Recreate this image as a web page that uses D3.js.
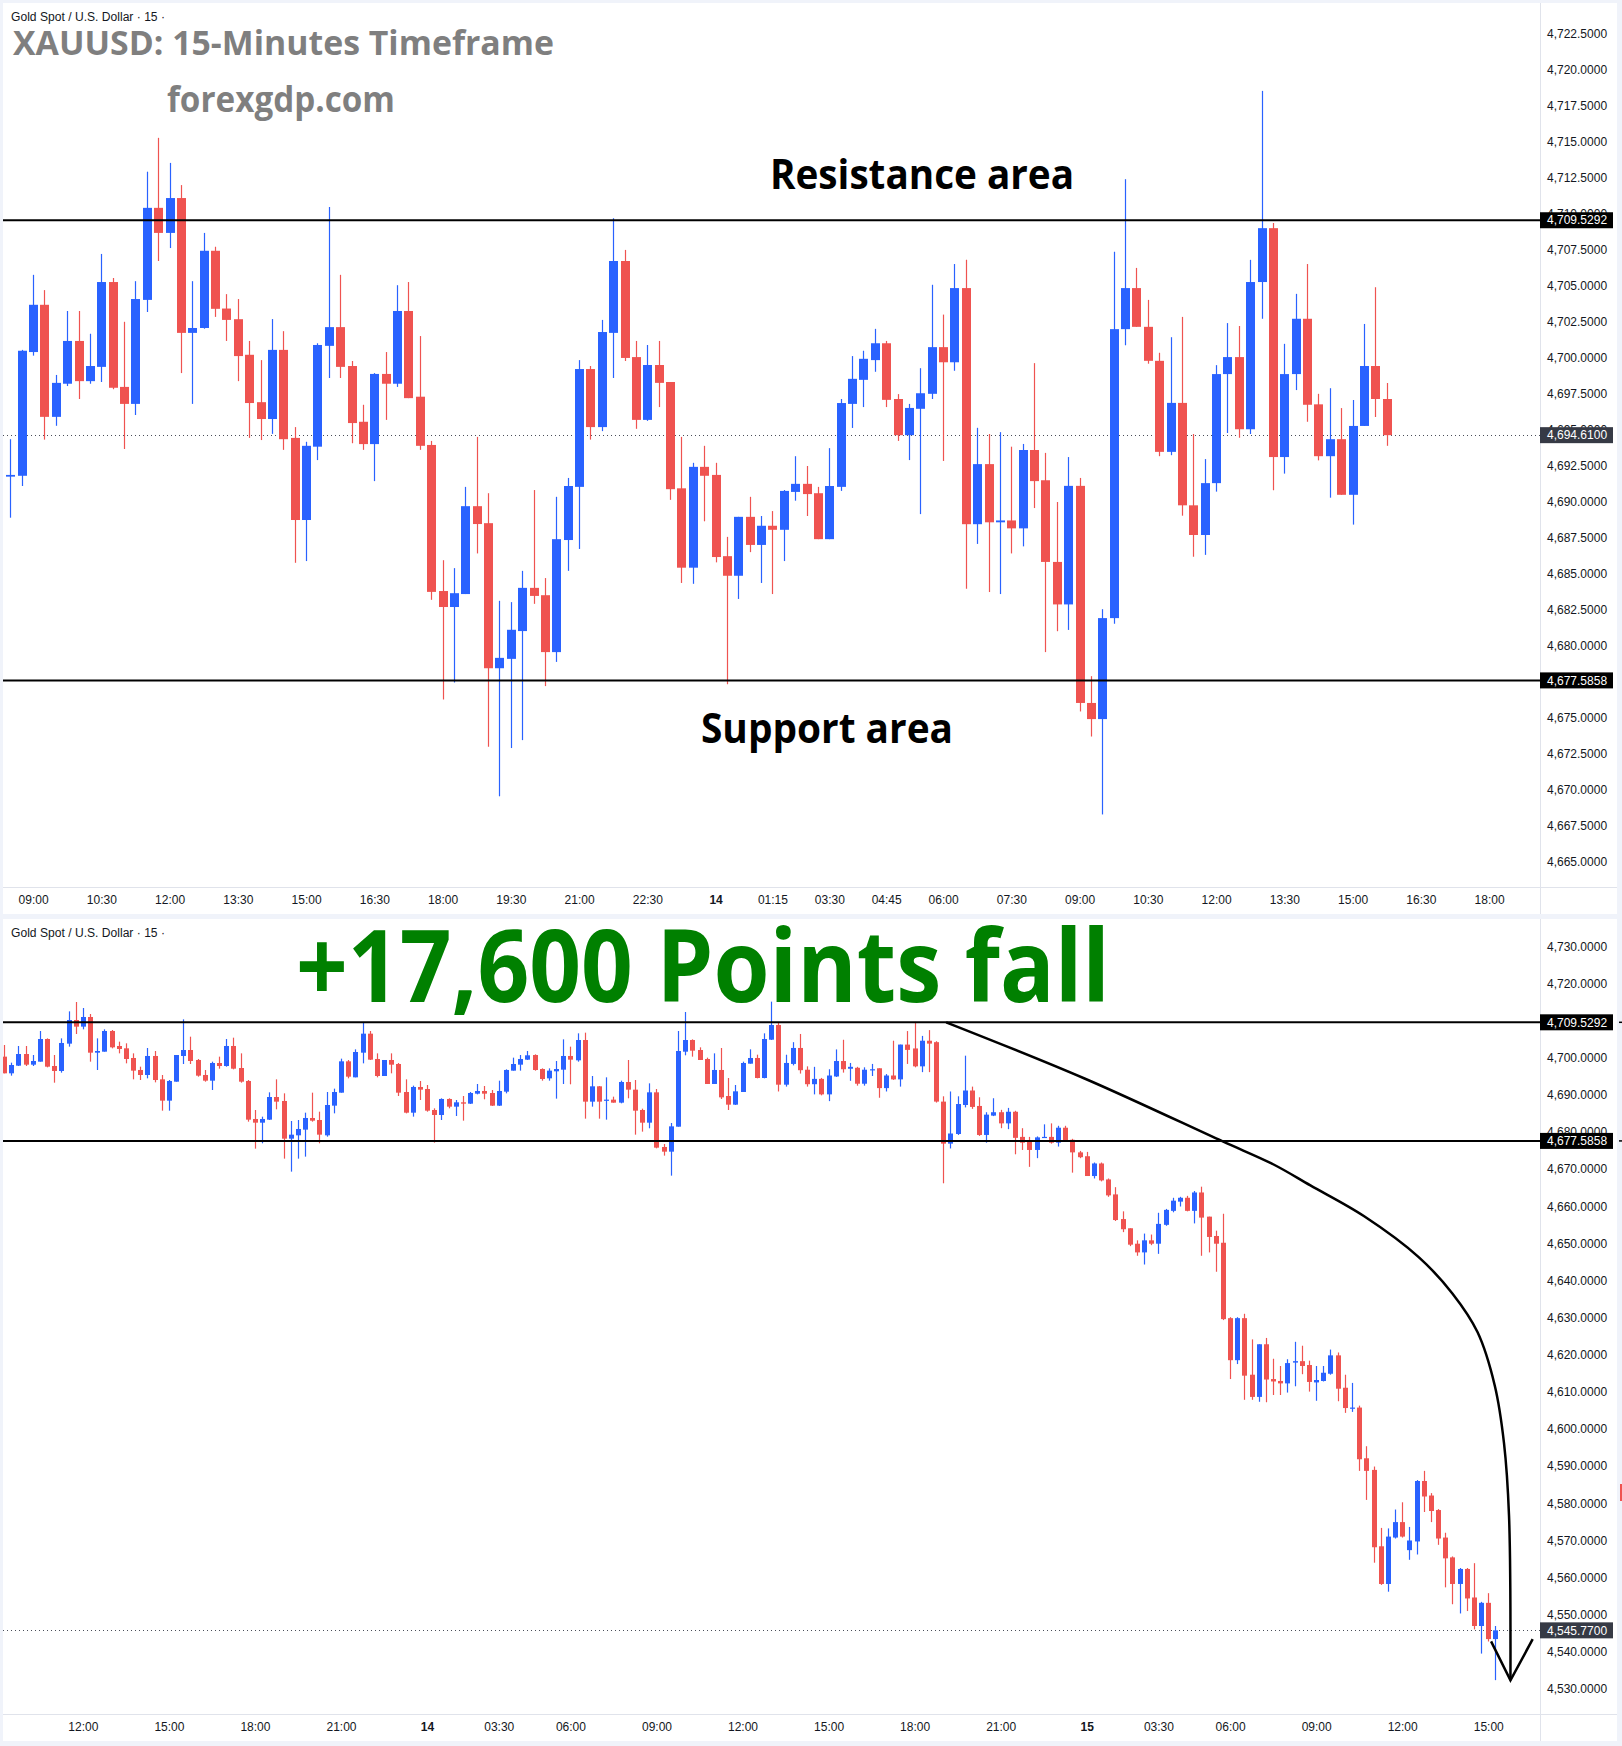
<!DOCTYPE html>
<html>
<head>
<meta charset="utf-8">
<script src="https://cdn.jsdelivr.net/npm/d3@7"></script>
<style>
  html, body { margin: 0; padding: 0; background: #f0f3fa; }
  svg { display: block; }
</style>
</head>
<body>
<div id="chart"></div>
<script>
// ---- top chart (15m, first view) ----
const topOpen = [4691.73,4691.79,4700.38,4703.66,4695.88,4698.18,4701.15,4698.36,4699.35,4705.24,
  4697.96,4696.78,4704.00,4710.39,4708.65,4711.07,4701.71,4702.05,4707.41,4703.40,
  4702.66,4700.19,4696.90,4695.73,4700.53,4694.42,4688.72,4693.81,4700.81,4702.11,
  4699.41,4695.54,4693.99,4698.86,4698.18,4703.23,4697.28,4693.93,4683.79,4682.68,
  4683.58,4689.68,4688.50,4678.43,4679.08,4681.01,4684.01,4683.50,4679.55,4687.33,
  4691.02,4699.20,4695.17,4701.71,4706.70,4700.03,4695.67,4699.48,4698.30,4690.92,
  4685.41,4692.41,4691.85,4686.21,4684.85,4688.94,4686.99,4688.32,4688.04,4690.67,
  4691.23,4690.58,4687.39,4691.02,4696.78,4698.45,4699.82,4700.99,4697.12,4694.61,
  4696.44,4697.48,4700.72,4699.67,4704.82,4688.43,4692.60,4688.56,4688.69,4688.14,
  4693.58,4691.48,4685.81,4682.86,4691.09,4676.02,4674.90,4681.91,4701.97,4704.82,
  4702.13,4699.77,4693.45,4696.85,4689.74,4687.68,4691.28,4698.85,4700.03,4695.02,
  4705.24,4708.98,4693.09,4698.85,4702.69,4696.75,4693.15,4694.33,4690.47,4695.25,
  4699.41,4697.12];
const topHigh = [4694.33,4700.53,4705.74,4704.68,4698.79,4703.23,4703.23,4701.65,4707.19,4705.52,
  4702.48,4705.30,4712.90,4715.25,4713.51,4711.97,4705.30,4708.65,4707.69,4704.40,
  4704.06,4701.15,4699.82,4702.67,4701.83,4695.17,4694.15,4700.99,4710.45,4705.74,
  4699.76,4696.72,4698.92,4700.38,4705.02,4705.24,4701.49,4694.21,4685.93,4685.38,
  4691.02,4694.49,4690.58,4683.11,4683.02,4685.19,4690.80,4684.69,4690.33,4691.64,
  4699.82,4699.41,4702.61,4709.67,4707.47,4701.15,4700.87,4701.15,4698.30,4694.49,
  4692.69,4693.87,4692.69,4687.55,4688.94,4690.33,4689.00,4689.34,4690.80,4693.15,
  4692.47,4691.02,4693.71,4697.12,4700.10,4700.47,4701.99,4701.15,4697.46,4696.78,
  4699.26,4705.05,4702.98,4706.49,4706.78,4695.12,4694.69,4694.82,4693.81,4694.00,
  4699.61,4693.38,4689.97,4693.09,4691.64,4677.88,4682.53,4707.34,4712.38,4706.22,
  4704.00,4700.33,4701.41,4702.82,4694.69,4692.95,4699.47,4702.39,4702.19,4706.78,
  4718.51,4709.34,4700.95,4704.42,4706.49,4697.48,4697.87,4696.49,4697.05,4702.33,
  4704.88,4698.23];
const topLow = [4688.88,4691.08,4700.13,4694.30,4695.26,4698.02,4697.12,4698.18,4698.30,4697.80,
  4693.65,4696.01,4703.16,4706.70,4707.60,4698.92,4696.78,4702.00,4702.82,4701.15,
  4698.36,4694.42,4694.27,4694.70,4693.59,4685.75,4685.87,4692.88,4698.58,4698.58,
  4694.05,4693.59,4691.42,4695.67,4697.96,4697.18,4693.59,4683.18,4676.26,4677.44,
  4683.58,4686.40,4672.98,4669.54,4672.89,4673.44,4682.90,4677.19,4678.87,4685.19,
  4686.71,4694.30,4694.89,4698.58,4699.76,4695.05,4695.60,4696.56,4690.12,4684.35,
  4684.29,4688.63,4685.78,4677.32,4683.24,4686.49,4684.35,4683.58,4685.87,4690.06,
  4689.00,4687.39,4687.39,4690.74,4695.11,4696.56,4699.01,4696.56,4694.21,4692.88,
  4689.13,4697.12,4692.82,4699.08,4683.95,4687.06,4683.72,4683.58,4686.40,4686.89,
  4689.55,4679.55,4681.00,4681.09,4675.43,4673.69,4668.28,4681.52,4700.85,4702.13,
  4699.57,4693.15,4693.22,4689.02,4686.17,4686.30,4690.69,4694.76,4694.43,4694.69,
  4702.69,4690.79,4691.94,4697.74,4695.54,4692.86,4690.27,4690.47,4688.40,4695.25,
  4695.87,4693.87];
const topClose = [4691.85,4700.47,4703.66,4695.88,4698.24,4701.15,4698.36,4699.41,4705.24,4697.90,
  4696.78,4704.06,4710.39,4708.65,4711.07,4701.71,4702.05,4707.41,4703.38,4702.61,
  4700.10,4696.84,4695.73,4700.53,4694.33,4688.72,4693.87,4700.87,4702.11,4699.35,
  4695.45,4693.99,4698.86,4698.18,4703.23,4697.18,4693.87,4683.73,4682.68,4683.64,
  4689.68,4688.44,4678.43,4679.15,4681.10,4684.01,4683.45,4679.55,4687.39,4691.08,
  4699.20,4695.17,4701.77,4706.70,4699.97,4695.67,4699.48,4698.24,4690.86,4685.41,
  4692.41,4691.79,4686.15,4684.85,4688.94,4686.99,4688.32,4688.04,4690.74,4691.23,
  4690.52,4687.39,4691.08,4696.84,4698.52,4699.91,4700.99,4697.06,4694.61,4696.50,
  4697.52,4700.72,4699.67,4704.82,4688.43,4692.60,4688.56,4688.69,4688.14,4693.58,
  4691.42,4685.81,4682.86,4691.09,4676.02,4674.90,4681.91,4701.97,4704.82,4702.13,
  4699.77,4693.45,4696.85,4689.74,4687.68,4691.28,4698.85,4700.03,4695.02,4705.24,
  4708.98,4693.09,4698.85,4702.69,4696.72,4693.15,4694.33,4690.47,4695.25,4699.41,
  4697.12,4694.61];
const topTickIdx = [2,8,14,20,26,32,38,44,50,56,62,67,72,77,82,88,94,100,106,112,118,124,130];
const topTickLbl = ['09:00','10:30','12:00','13:30','15:00','16:30','18:00','19:30','21:00','22:30','14',
  '01:15','03:30','04:45','06:00','07:30','09:00','10:30','12:00','13:30','15:00','16:30','18:00'];
const topPriceTicks = d3.range(4665, 4722.51, 2.5);

// ---- bottom chart (15m, zoomed out) ----
const botOpen = [4700.28,4695.79,4697.85,4700.99,4698.12,4698.93,4705.03,4697.76,4696.42,4703.78,
  4710.15,4708.36,4710.96,4701.35,4701.62,4707.19,4703.15,4702.52,4699.92,4696.69,
  4695.34,4700.46,4694.17,4688.43,4693.54,4700.46,4702.07,4699.38,4695.34,4693.81,
  4698.57,4697.76,4703.15,4697.22,4693.72,4683.49,4682.50,4683.31,4689.41,4688.34,
  4678.19,4679.09,4680.62,4683.76,4683.22,4679.09,4687.08,4690.58,4699.02,4694.71,
  4701.35,4706.47,4699.65,4695.07,4699.38,4698.30,4690.76,4685.19,4692.11,4691.57,
  4685.91,4684.57,4688.88,4686.81,4687.98,4687.62,4690.31,4691.03,4690.49,4687.08,
  4690.85,4696.51,4698.12,4699.47,4700.72,4696.95,4694.44,4696.33,4696.77,4700.46,
  4699.29,4704.76,4688.16,4692.29,4688.52,4688.70,4687.89,4693.45,4691.39,4685.91,
  4682.50,4690.67,4675.95,4674.69,4681.42,4701.62,4704.76,4702.07,4699.65,4692.92,
  4696.69,4689.68,4687.35,4690.76,4698.39,4699.92,4694.53,4704.85,4708.80,4692.73,
  4698.32,4702.62,4696.76,4692.86,4694.29,4690.12,4694.94,4699.10,4697.02,4697.28,
  4692.99,4696.63,4697.15,4691.81,4695.20,4694.16,4703.53,4702.49,4697.67,4704.57,
  4704.18,4688.17,4676.85,4679.45,4687.26,4691.16,4687.00,4679.19,4684.40,4685.31,
  4682.31,4685.44,4678.67,4677.37,4675.15,4678.41,4678.67,4677.11,4681.14,4677.89,
  4674.50,4673.46,4668.13,4671.51,4667.21,4663.18,4656.54,4654.06,4649.90,4647.56,
  4650.81,4649.90,4654.98,4658.75,4661.23,4662.27,4658.75,4663.70,4657.19,4651.98,
  4650.16,4629.85,4618.53,4629.85,4614.62,4608.64,4622.82,4613.45,4612.93,4612.28,
  4617.88,4618.27,4617.23,4612.54,4612.93,4614.88,4619.83,4611.11,4605.51,4605.77,
  4592.11,4588.98,4568.41,4558.26,4570.76,4574.92,4567.37,4569.71,4585.99,4582.08,
  4578.17,4570.76,4565.42,4558.26,4562.30,4554.62,4546.94,4553.18,4543.42];
const botHigh = [4703.42,4698.66,4703.15,4703.15,4700.72,4707.19,4705.21,4700.72,4705.21,4712.48,
  4715.00,4713.38,4711.77,4705.21,4707.64,4707.46,4704.32,4703.87,4701.17,4697.58,
  4702.61,4701.80,4695.34,4693.99,4700.72,4710.33,4705.66,4699.65,4696.69,4698.93,
  4700.28,4705.03,4705.39,4701.17,4693.99,4685.91,4684.12,4690.67,4694.17,4690.40,
  4682.95,4683.22,4685.19,4690.58,4685.46,4690.76,4691.66,4699.74,4699.38,4702.25,
  4709.61,4707.19,4701.17,4699.38,4701.17,4698.57,4694.17,4692.47,4693.72,4692.65,
  4686.36,4689.06,4689.06,4688.61,4689.68,4690.76,4692.92,4692.38,4691.30,4693.81,
  4696.86,4700.01,4700.72,4701.80,4700.90,4697.13,4697.13,4699.11,4704.94,4702.97,
  4706.56,4706.74,4695.07,4692.38,4694.71,4689.50,4693.81,4699.38,4693.99,4686.27,
  4693.09,4691.57,4676.76,4682.41,4707.19,4712.30,4704.94,4702.79,4700.01,4701.17,
  4702.61,4694.53,4692.65,4698.93,4702.25,4700.81,4706.56,4715.09,4709.39,4700.80,
  4704.18,4706.39,4697.67,4697.54,4694.55,4696.89,4702.23,4704.83,4698.58,4697.54,
  4697.41,4698.32,4697.15,4695.59,4704.57,4703.53,4707.17,4709.65,4705.87,4707.43,
  4704.44,4689.60,4690.90,4689.60,4700.54,4692.21,4689.34,4685.31,4689.08,4685.96,
  4686.48,4685.70,4681.01,4678.67,4678.80,4682.05,4682.31,4681.66,4681.66,4678.15,
  4674.89,4674.63,4671.77,4671.77,4667.47,4665.13,4658.62,4654.06,4650.81,4652.63,
  4652.37,4658.23,4659.27,4662.27,4662.53,4662.79,4664.09,4665.26,4657.19,4653.41,
  4657.97,4630.11,4630.11,4631.03,4624.13,4622.82,4624.52,4618.92,4616.97,4618.79,
  4623.48,4622.43,4618.40,4616.97,4616.97,4621.39,4620.61,4614.62,4612.41,4606.29,
  4595.36,4589.89,4573.36,4573.23,4578.31,4580.26,4573.62,4586.25,4588.72,4582.73,
  4578.43,4572.06,4565.68,4562.56,4562.56,4563.86,4553.44,4555.78,4546.94];
const botLow = [4695.79,4695.16,4697.76,4697.76,4697.76,4698.93,4697.40,4693.27,4695.97,4702.97,
  4706.38,4707.64,4698.93,4696.69,4701.62,4702.52,4701.17,4698.48,4694.17,4693.99,
  4694.44,4693.36,4685.73,4685.73,4693.54,4698.30,4698.30,4694.89,4693.54,4691.30,
  4697.04,4697.58,4696.86,4693.27,4682.77,4675.50,4676.94,4683.22,4686.09,4672.81,
  4669.31,4672.81,4673.35,4682.77,4676.94,4678.73,4685.01,4690.58,4694.44,4694.71,
  4698.48,4699.38,4694.71,4695.07,4695.79,4689.68,4685.01,4684.12,4688.61,4685.46,
  4677.12,4683.22,4686.36,4684.30,4683.04,4687.53,4690.13,4688.79,4686.99,4686.99,
  4690.40,4696.51,4696.51,4699.38,4696.51,4693.81,4693.81,4688.97,4692.92,4692.83,
  4698.93,4683.58,4686.81,4683.58,4683.31,4687.89,4687.71,4689.06,4679.27,4680.08,
  4680.98,4675.59,4673.62,4668.23,4681.42,4700.64,4700.28,4699.38,4692.92,4692.92,
  4688.88,4685.91,4687.26,4690.76,4698.39,4694.44,4694.44,4704.76,4690.90,4692.21,
  4697.93,4695.72,4692.21,4690.12,4689.86,4688.30,4694.81,4695.98,4693.77,4692.47,
  4692.47,4695.07,4689.21,4690.90,4694.03,4692.21,4698.32,4697.41,4696.11,4696.11,
  4687.91,4666.17,4675.55,4679.19,4686.61,4686.22,4678.93,4677.11,4684.27,4681.01,
  4680.75,4673.98,4675.15,4670.60,4672.94,4678.41,4676.85,4676.07,4677.37,4669.04,
  4672.94,4668.13,4667.47,4666.69,4662.53,4656.02,4653.02,4649.25,4646.65,4644.30,
  4649.51,4647.17,4654.72,4658.36,4659.92,4658.62,4655.37,4646.65,4647.56,4642.35,
  4629.33,4613.45,4617.49,4607.86,4607.86,4607.33,4607.20,4609.16,4609.16,4609.81,
  4611.50,4614.75,4610.07,4607.60,4612.80,4614.62,4607.47,4604.34,4604.60,4588.72,
  4580.90,4563.99,4558.00,4556.18,4570.50,4570.76,4564.77,4566.20,4577.65,4574.92,
  4568.80,4557.35,4552.80,4550.32,4550.97,4546.03,4539.51,4542.77,4532.36];
const botClose = [4695.79,4698.03,4700.99,4698.12,4699.11,4705.03,4697.58,4696.42,4703.96,4710.15,
  4708.36,4710.96,4701.35,4701.80,4707.19,4702.79,4702.34,4699.65,4696.51,4695.34,
  4700.46,4693.99,4688.43,4693.72,4700.72,4702.07,4699.11,4695.16,4693.81,4698.57,
  4697.76,4703.15,4697.04,4693.54,4683.31,4682.50,4683.49,4689.41,4688.16,4678.19,
  4679.27,4680.80,4683.76,4683.04,4679.27,4687.26,4690.76,4699.02,4694.89,4701.53,
  4706.47,4699.47,4695.07,4699.38,4698.12,4690.58,4685.19,4692.11,4691.39,4685.73,
  4684.57,4688.88,4686.81,4687.98,4687.62,4690.49,4691.03,4690.31,4687.08,4691.03,
  4696.69,4698.30,4699.65,4700.64,4696.69,4694.26,4696.51,4696.95,4700.46,4699.47,
  4704.76,4688.16,4692.29,4688.16,4688.70,4687.89,4693.45,4691.39,4685.73,4682.50,
  4690.67,4675.77,4674.69,4681.51,4701.80,4704.76,4701.89,4699.38,4692.92,4696.69,
  4689.32,4687.35,4690.94,4698.57,4699.92,4694.53,4705.03,4708.80,4692.73,4698.58,
  4702.62,4696.63,4692.86,4694.29,4690.12,4695.20,4699.10,4696.89,4697.54,4692.99,
  4696.76,4696.89,4691.81,4695.20,4694.16,4703.53,4702.10,4697.67,4704.57,4703.79,
  4688.17,4676.85,4679.58,4687.52,4691.16,4686.74,4679.19,4684.66,4685.31,4682.31,
  4685.44,4678.41,4677.11,4675.15,4678.54,4678.67,4677.11,4681.14,4677.63,4674.50,
  4673.20,4668.13,4671.51,4666.95,4662.92,4656.28,4653.80,4649.64,4647.56,4650.81,
  4649.90,4655.24,4659.01,4661.49,4662.27,4658.75,4663.70,4656.93,4651.72,4649.90,
  4629.59,4618.53,4629.85,4614.36,4608.64,4622.82,4613.32,4612.80,4612.28,4617.75,
  4618.27,4616.97,4612.67,4613.19,4615.15,4619.83,4610.85,4605.64,4605.77,4591.85,
  4588.72,4568.15,4558.26,4571.02,4574.92,4571.02,4569.97,4585.99,4581.82,4577.91,
  4570.50,4565.16,4558.26,4562.30,4554.36,4546.94,4553.18,4543.42,4545.77];
const botTickIdx = [11,23,35,47,59,69,79,91,103,115,127,139,151,161,171,183,195,207];
const botTickLbl = ['12:00','15:00','18:00','21:00','14','03:30','06:00','09:00','12:00','15:00',
  '18:00','21:00','15','03:30','06:00','09:00','12:00','15:00'];
const botPriceTicks = d3.range(4530, 4730.1, 10);

// levels drawn on both charts
const RESISTANCE = 4709.5292;
const SUPPORT = 4677.5858;
const TOP_LAST = 4694.61;
const BOT_LAST = 4545.77;

// hand drawn arrow on the lower chart (candle index, price)
const arrowIdx = [131.4, 150.7, 169.9, 177.0, 182.2, 189.7, 197.3, 202.0, 205.5, 207.9, 209.2, 209.9, 210.1];
const arrowPrice = [4709.53, 4694.4, 4677.5, 4671.3, 4665.6, 4657.3, 4646.3, 4636.5, 4626.1, 4611.8, 4596.2, 4576.6, 4532.3];
const headIdx = [207.4, 210.1, 213.2];
const headPrice = [4542.8, 4532.3, 4543.4];

const W = 1622, H = 1746;
const PANEL_L = 3, PANEL_R = 1617, AXIS_X = 1540;
const UP = '#2962ff', DOWN = '#ef5350', GRID = '#e0e3eb', TXT = '#131722';
const AXIS_FONT = '"Liberation Sans", Arial, sans-serif';
const fmt = d3.format(',.4f');

const svg = d3.select('#chart').append('svg')
  .attr('width', W)
  .attr('height', H);
svg.append('rect').attr('width', W).attr('height', H).attr('fill', '#f0f3fa');
const defs = svg.append('defs');

function drawPanel(p) {
  const g = svg.append('g');

  g.append('rect')
    .attr('x', PANEL_L).attr('y', p.y0)
    .attr('width', PANEL_R - PANEL_L).attr('height', p.y1 - p.y0)
    .attr('fill', '#ffffff');
  g.append('line')
    .attr('x1', PANEL_L).attr('x2', PANEL_R)
    .attr('y1', p.plotB + 0.5).attr('y2', p.plotB + 0.5)
    .attr('stroke', GRID);
  g.append('line')
    .attr('x1', AXIS_X + 0.5).attr('x2', AXIS_X + 0.5)
    .attr('y1', p.y0).attr('y2', p.y1)
    .attr('stroke', GRID);

  defs.append('clipPath').attr('id', 'clip-' + p.name)
    .append('rect')
      .attr('x', PANEL_L).attr('y', p.y0)
      .attr('width', AXIS_X - PANEL_L).attr('height', p.plotB - p.y0);
  const plot = g.append('g').attr('clip-path', `url(#clip-${p.name})`);

  const rows = p.open.map((o, i) => ({ i, o, h: p.high[i], l: p.low[i], c: p.close[i] }));
  const col = d => d.c >= d.o ? UP : DOWN;
  const cx = d => Math.round(p.x(d.i)) + 0.5;

  // last price line
  plot.append('line')
    .attr('x1', PANEL_L).attr('x2', AXIS_X)
    .attr('y1', Math.round(p.y(p.last)) + 0.5).attr('y2', Math.round(p.y(p.last)) + 0.5)
    .attr('stroke', '#4a4e59')
    .attr('stroke-dasharray', '1,3');

  plot.selectAll('line.wick')
    .data(rows)
    .join('line')
      .attr('class', 'wick')
      .attr('x1', cx).attr('x2', cx)
      .attr('y1', d => p.y(d.h))
      .attr('y2', d => p.y(d.l))
      .attr('stroke', col)
      .attr('stroke-width', 1.2);

  plot.selectAll('rect.body')
    .data(rows)
    .join('rect')
      .attr('class', 'body')
      .attr('x', d => cx(d) - p.bodyW / 2)
      .attr('y', d => p.y(Math.max(d.o, d.c)))
      .attr('width', p.bodyW)
      .attr('height', d => Math.max(1.2, p.y(Math.min(d.o, d.c)) - p.y(Math.max(d.o, d.c))))
      .attr('fill', col);

  [RESISTANCE, SUPPORT].forEach(v => {
    plot.append('line')
      .attr('x1', PANEL_L).attr('x2', AXIS_X)
      .attr('y1', p.y(v)).attr('y2', p.y(v))
      .attr('stroke', '#000')
      .attr('stroke-width', 2);
  });

  // price axis
  const yAxis = g.append('g')
    .attr('transform', `translate(${AXIS_X},0)`)
    .call(d3.axisRight(p.y).tickValues(p.priceTicks).tickFormat(fmt).tickSize(0).tickPadding(7));
  yAxis.select('.domain').remove();
  yAxis.selectAll('text')
    .attr('font-family', AXIS_FONT)
    .attr('font-size', 12)
    .attr('fill', TXT);

  // time axis
  const xAxis = g.append('g')
    .attr('transform', `translate(0,${p.plotB})`)
    .call(d3.axisBottom(p.x).tickValues(p.tickIdx).tickFormat((d, i) => p.tickLbl[i]).tickSize(0).tickPadding(8.5));
  xAxis.select('.domain').remove();
  xAxis.selectAll('text')
    .attr('font-family', AXIS_FONT)
    .attr('font-size', 12)
    .attr('fill', TXT)
    .attr('font-weight', (d, i) => p.tickLbl[i].length === 2 ? 700 : 400);

  // highlighted price labels
  const boxes = [[RESISTANCE, '#000000'], [SUPPORT, '#000000'], [p.last, '#363a45']];
  boxes.forEach(([v, fill]) => {
    const yy = p.y(v);
    g.append('rect')
      .attr('x', AXIS_X).attr('y', yy - 8)
      .attr('width', 73).attr('height', 16)
      .attr('fill', fill);
    g.append('text')
      .attr('x', AXIS_X + 7).attr('y', yy)
      .attr('dy', '0.35em')
      .attr('font-family', AXIS_FONT)
      .attr('font-size', 12)
      .attr('fill', '#ffffff')
      .text(fmt(v));
  });

  g.append('text')
    .attr('x', 11).attr('y', p.y0 + 18)
    .attr('font-family', AXIS_FONT)
    .attr('font-size', 12)
    .attr('fill', TXT)
    .attr('textLength', 154)
    .attr('lengthAdjust', 'spacingAndGlyphs')
    .text('Gold Spot / U.S. Dollar · 15 ·');

  return g;
}

const yTop = d3.scaleLinear().domain([4722.5, 4665]).range([33.4, 861.7]);
const xTop = d3.scaleLinear().domain([0, 121]).range([10.33, 1386.7]);
const topG = drawPanel({
  name: 'top', y0: 3, plotB: 887, y1: 914,
  x: xTop, y: yTop, bodyW: 9,
  open: topOpen, high: topHigh, low: topLow, close: topClose,
  tickIdx: topTickIdx, tickLbl: topTickLbl, priceTicks: topPriceTicks,
  last: TOP_LAST
});

const yBot = d3.scaleLinear().domain([4730, 4530]).range([946.3, 1688.9]);
const xBot = d3.scaleLinear().domain([0, 208]).range([4, 1495.4]);
const botG = drawPanel({
  name: 'bot', y0: 919, plotB: 1714, y1: 1741,
  x: xBot, y: yBot, bodyW: 5,
  open: botOpen, high: botHigh, low: botLow, close: botClose,
  tickIdx: botTickIdx, tickLbl: botTickLbl, priceTicks: botPriceTicks,
  last: BOT_LAST
});

// annotations
const bold = '"Open Sans", "Noto Sans", sans-serif';
topG.append('text')
  .attr('x', 13).attr('y', 55)
  .attr('font-family', bold).attr('font-weight', 700).attr('font-size', 34)
  .attr('fill', '#7f7f7f')
  .attr('textLength', 541).attr('lengthAdjust', 'spacingAndGlyphs')
  .text('XAUUSD: 15-Minutes Timeframe');
topG.append('text')
  .attr('x', 167).attr('y', 112)
  .attr('font-family', bold).attr('font-weight', 700).attr('font-size', 35)
  .attr('fill', '#7f7f7f')
  .attr('textLength', 228).attr('lengthAdjust', 'spacingAndGlyphs')
  .text('forexgdp.com');
topG.append('text')
  .attr('x', 770).attr('y', 189)
  .attr('font-family', bold).attr('font-weight', 700).attr('font-size', 42)
  .attr('fill', '#000')
  .attr('textLength', 304).attr('lengthAdjust', 'spacingAndGlyphs')
  .text('Resistance area');
topG.append('text')
  .attr('x', 701).attr('y', 743)
  .attr('font-family', bold).attr('font-weight', 700).attr('font-size', 42)
  .attr('fill', '#000')
  .attr('textLength', 252).attr('lengthAdjust', 'spacingAndGlyphs')
  .text('Support area');

botG.append('text')
  .attr('x', 296).attr('y', 1002)
  .attr('font-family', bold).attr('font-weight', 700).attr('font-size', 101)
  .attr('fill', '#008000')
  .attr('textLength', 814).attr('lengthAdjust', 'spacingAndGlyphs')
  .text('+17,600 Points fall');

const arrowLine = d3.line()
  .x(d => xBot(d[0]))
  .y(d => yBot(d[1]))
  .curve(d3.curveCatmullRom.alpha(0.5));
botG.append('path')
  .attr('d', arrowLine(arrowIdx.map((v, i) => [v, arrowPrice[i]])))
  .attr('fill', 'none')
  .attr('stroke', '#000')
  .attr('stroke-width', 2.5);
botG.append('path')
  .attr('d', d3.line().x(d => xBot(d[0])).y(d => yBot(d[1]))(headIdx.map((v, i) => [v, headPrice[i]])))
  .attr('fill', 'none')
  .attr('stroke', '#000')
  .attr('stroke-width', 2.5);

// bits of the neighbouring chart peeking in at the right edge
[RESISTANCE, SUPPORT].forEach(v => {
  svg.append('line')
    .attr('x1', 1619).attr('x2', W)
    .attr('y1', yBot(v)).attr('y2', yBot(v))
    .attr('stroke', '#000').attr('stroke-width', 1.5);
});
svg.append('line')
  .attr('x1', 1621).attr('x2', 1621)
  .attr('y1', 1484).attr('y2', 1501)
  .attr('stroke', DOWN).attr('stroke-width', 2);
</script>
</body>
</html>
